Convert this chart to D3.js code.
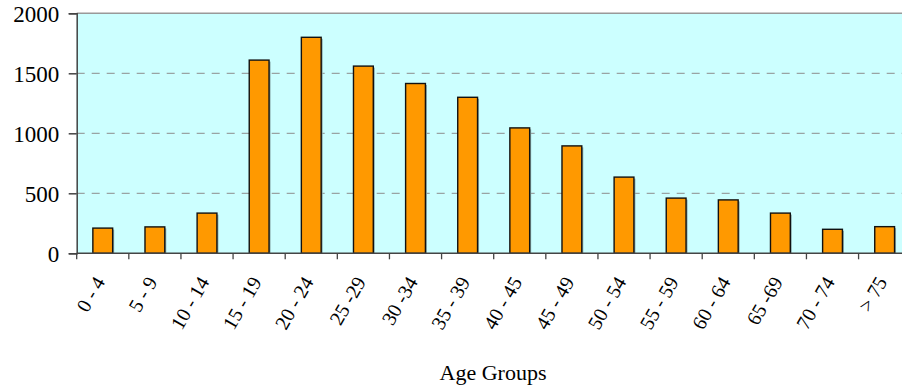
<!DOCTYPE html>
<html>
<head>
<meta charset="utf-8">
<script src="https://cdn.jsdelivr.net/npm/d3@7"></script>
<style>
body { margin: 0; background: #fff; }
svg { display: block; }
text { font-family: "Liberation Serif", "Times New Roman", serif; }
</style>
</head>
<body>
<script>
// data
var ageGroups = ['0 - 4', '5 - 9', '10 - 14', '15 - 19', '20 - 24', '25 -29', '30 -34', '35 - 39',
    '40 - 45', '45 - 49', '50 - 54', '55 - 59', '60 - 64', '65 -69', '70 - 74', '> 75'];
var counts = [210, 220, 335, 1610, 1800, 1560, 1415, 1300, 1045, 895, 635, 460, 445, 335, 200, 222];
var yTicks = [0, 500, 1000, 1500, 2000];

var svg = d3.select("body")
    .append("svg")
    .attr("width", 902)
    .attr("height", 389);

margin = {top: 13.3, left: 76.7};
width = 834;
height = 240;

var g = svg.append("g").attr("transform", "translate(" + margin.left + "," + margin.top + ")");

var x = d3.scaleBand().domain(ageGroups).range([0, width]).paddingInner(0.62).paddingOuter(0.31);
var y = d3.scaleLinear().domain([0, 2000]).range([height, 0]);

// plot background
g.append('rect')
    .attr('width', width)
    .attr('height', height)
    .attr('fill', '#ccffff');

// top border
g.append('line')
    .attr('x1', 0).attr('x2', width)
    .attr('y1', 0).attr('y2', 0)
    .attr('stroke', '#999')
    .attr('stroke-width', 1.5);

// grid lines
g.selectAll('.grid')
    .data(yTicks.filter(function (d) { return d > 0 && d < 2000; }))
    .enter()
    .append('line')
    .attr('x1', 0).attr('x2', width)
    .attr('y1', function (d) { return y(d); })
    .attr('y2', function (d) { return y(d); })
    .attr('stroke', '#8c8c8c')
    .attr('stroke-width', 1)
    .attr('stroke-dasharray', '8,7');

// bar shadows
g.selectAll('.shadow')
    .data(counts)
    .enter()
    .append('rect')
    .attr('x', function (d, i) { return x(ageGroups[i]) + 1.5; })
    .attr('y', function (d) { return y(d) + 1.5; })
    .attr('width', x.bandwidth())
    .attr('height', function (d) { return height - y(d) - 1.5; })
    .attr('fill', '#8aa');

// bars
g.selectAll('.bar')
    .data(counts)
    .enter()
    .append('rect')
    .attr('x', function (d, i) { return x(ageGroups[i]); })
    .attr('y', function (d) { return y(d); })
    .attr('width', x.bandwidth())
    .attr('height', function (d) { return height - y(d); })
    .attr('fill', '#ff9900')
    .attr('stroke', '#111')
    .attr('stroke-width', 1.4);

// y axis
var yAxis = g.append('g')
    .call(d3.axisLeft(y).tickValues(yTicks).tickSize(8).tickFormat(d3.format('d')));
yAxis.attr('font-family', null);
yAxis.select('.domain').attr('stroke', '#444').attr('stroke-width', 1.5);
yAxis.selectAll('.tick line').attr('stroke', '#444').attr('stroke-width', 1.5);
yAxis.selectAll('text')
    .style('font-family', '"Liberation Serif", "Times New Roman", serif')
    .style('font-size', '23px')
    .attr('fill', '#000')
    .attr('x', -17.5)
    .attr('dy', '0.36em');

// x axis with ticks at band boundaries
var step = x.step();
var boundaries = d3.range(ageGroups.length + 1).map(function (i) { return i * step; });
g.append('line')
    .attr('x1', 0).attr('x2', width)
    .attr('y1', height).attr('y2', height)
    .attr('stroke', '#444')
    .attr('stroke-width', 1.5);
g.selectAll('.xtick')
    .data(boundaries)
    .enter()
    .append('line')
    .attr('x1', function (d) { return d; })
    .attr('x2', function (d) { return d; })
    .attr('y1', height)
    .attr('y2', height + 6)
    .attr('stroke', '#444')
    .attr('stroke-width', 1.3);

// x labels
g.selectAll('.xlabel')
    .data(ageGroups)
    .enter()
    .append('text')
    .attr('transform', function (d) {
        return 'translate(' + (x(d) + x.bandwidth() / 2 + 3) + ',' + (height + 28.5) + ') rotate(-60)';
    })
    .attr('text-anchor', 'end')
    .attr('fill', '#000')
    .style('font-size', '20px')
    .text(function (d) { return d; });

svg.append('text')
    .attr('x', 493)
    .attr('y', 380)
    .attr('text-anchor', 'middle')
    .attr('fill', '#000')
    .style('font-size', '22px')
    .text('Age Groups');
</script>
</body>
</html>
